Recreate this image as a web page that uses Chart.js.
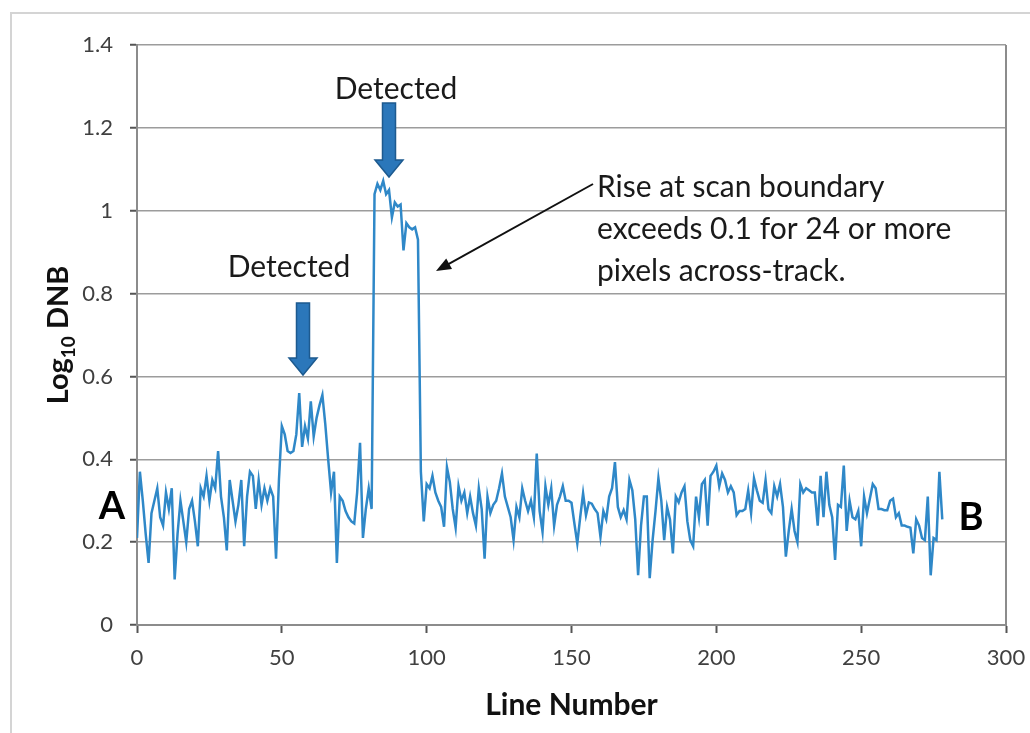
<!DOCTYPE html>
<html>
<head>
<meta charset="utf-8">
<script src="https://cdn.jsdelivr.net/npm/chart.js@4/dist/chart.umd.min.js"></script>
<style>
  html, body { margin: 0; padding: 0; background: #fff; }
  #wrap { width: 1030px; height: 733px; }
</style>
</head>
<body>
<div id="wrap"><canvas id="chart" width="1030" height="733"></canvas></div>
<script>
// Log10 DNB along the line, one value per line number (starting at line 0)
const dnb = [
  0.21, 0.37, 0.30, 0.22, 0.15, 0.27, 0.30, 0.33, 0.26, 0.24,
  0.32, 0.28, 0.33, 0.11, 0.22, 0.30, 0.25, 0.20, 0.28, 0.30,
  0.25, 0.19, 0.33, 0.31, 0.36, 0.30, 0.35, 0.33, 0.42, 0.31,
  0.26, 0.18, 0.35, 0.30, 0.25, 0.29, 0.35, 0.19, 0.31, 0.37,
  0.36, 0.28, 0.35, 0.29, 0.33, 0.30, 0.33, 0.31, 0.16, 0.35,
  0.48, 0.46, 0.42, 0.415, 0.42, 0.46, 0.56, 0.43, 0.48, 0.45,
  0.54, 0.455, 0.50, 0.53, 0.555, 0.485, 0.40, 0.32, 0.37, 0.15,
  0.31, 0.30, 0.275, 0.26, 0.25, 0.245, 0.32, 0.44, 0.21, 0.28,
  0.33, 0.28, 1.04, 1.065, 1.05, 1.072, 1.04, 1.05, 0.984, 1.02,
  1.01, 1.015, 0.904, 0.97, 0.96, 0.955, 0.96, 0.93, 0.37, 0.25,
  0.34, 0.33, 0.36, 0.32, 0.30, 0.285, 0.237, 0.381, 0.345, 0.28,
  0.235, 0.335, 0.30, 0.32, 0.27, 0.31, 0.27, 0.24, 0.33, 0.28,
  0.16, 0.31, 0.27, 0.29, 0.30, 0.33, 0.366, 0.31, 0.285, 0.26,
  0.205, 0.285, 0.26, 0.33, 0.30, 0.275, 0.30, 0.26, 0.414, 0.275,
  0.225, 0.335, 0.29, 0.33, 0.24, 0.29, 0.31, 0.335, 0.30, 0.30,
  0.295, 0.245, 0.197, 0.26, 0.318, 0.265, 0.296, 0.293, 0.28, 0.27,
  0.213, 0.275, 0.255, 0.31, 0.33, 0.393, 0.285, 0.26, 0.277, 0.255,
  0.35, 0.325, 0.255, 0.12, 0.24, 0.31, 0.31, 0.113, 0.205, 0.275,
  0.354, 0.30, 0.205, 0.285, 0.255, 0.173, 0.31, 0.296, 0.32, 0.335,
  0.25, 0.205, 0.19, 0.31, 0.26, 0.34, 0.35, 0.24, 0.36, 0.37,
  0.385, 0.335, 0.366, 0.35, 0.32, 0.335, 0.32, 0.265, 0.275, 0.275,
  0.28, 0.325, 0.27, 0.354, 0.325, 0.30, 0.295, 0.35, 0.28, 0.27,
  0.335, 0.31, 0.34, 0.285, 0.165, 0.227, 0.28, 0.227, 0.20, 0.34,
  0.32, 0.33, 0.325, 0.32, 0.32, 0.24, 0.36, 0.26, 0.37, 0.29,
  0.26, 0.157, 0.29, 0.285, 0.385, 0.227, 0.30, 0.26, 0.255, 0.275,
  0.19, 0.31, 0.27, 0.305, 0.34, 0.33, 0.28, 0.28, 0.277, 0.277,
  0.30, 0.305, 0.26, 0.27, 0.24, 0.24, 0.237, 0.235, 0.173, 0.255,
  0.24, 0.21, 0.205, 0.31, 0.12, 0.21, 0.205, 0.37, 0.255
];
const lineNumbers = dnb.map((v, i) => i);

const xTicks = [0, 50, 100, 150, 200, 250, 300];
const yTicks = ['0', '0.2', '0.4', '0.6', '0.8', '1', '1.2', '1.4'];

const FONT = 'Lato';

// down-pointing block arrow (the "Detected" markers)
function blockArrow(ctx, cx, yTop, yTip, shaftW, headW, headH) {
    ctx.beginPath();
    ctx.moveTo(cx - shaftW / 2, yTop);
    ctx.lineTo(cx + shaftW / 2, yTop);
    ctx.lineTo(cx + shaftW / 2, yTip - headH);
    ctx.lineTo(cx + headW / 2, yTip - headH);
    ctx.lineTo(cx, yTip);
    ctx.lineTo(cx - headW / 2, yTip - headH);
    ctx.lineTo(cx - shaftW / 2, yTip - headH);
    ctx.closePath();
    ctx.fillStyle = '#2b77ba';
    ctx.fill();
    ctx.strokeStyle = '#1d5a8f';
    ctx.lineWidth = 1.5;
    ctx.stroke();
}

const extras = {
    id: 'extras',
    afterDraw(chart) {
        const ctx = chart.ctx;
        const a = chart.chartArea;
        ctx.save();

        // outer frame (left and top edges visible)
        ctx.strokeStyle = '#d4d4d4';
        ctx.lineWidth = 2;
        ctx.beginPath();
        ctx.moveTo(11, 733);
        ctx.lineTo(11, 13);
        ctx.lineTo(1030, 13);
        ctx.stroke();

        // right edge of plot area
        ctx.strokeStyle = '#8c8c8c';
        ctx.lineWidth = 2;
        ctx.beginPath();
        ctx.moveTo(a.right, a.top);
        ctx.lineTo(a.right, a.bottom);
        ctx.stroke();

        // y title with subscript
        ctx.save();
        ctx.translate(68, (a.top + a.bottom) / 2);
        ctx.rotate(-Math.PI / 2);
        ctx.fillStyle = '#111';
        ctx.textBaseline = 'alphabetic';
        const big = 'bold 29px ' + FONT, small = 'bold 19px ' + FONT;
        ctx.font = big; const w1 = ctx.measureText('Log').width; const w3 = ctx.measureText(' DNB').width;
        ctx.font = small; const w2 = ctx.measureText('10').width;
        let x0 = -(w1 + w2 + w3) / 2;
        ctx.font = big; ctx.fillText('Log', x0, 0);
        ctx.font = small; ctx.fillText('10', x0 + w1, 7);
        ctx.font = big; ctx.fillText(' DNB', x0 + w1 + w2, 0);
        ctx.restore();

        // A and B end labels
        ctx.fillStyle = '#000';
        ctx.font = 'bold 38px ' + FONT;
        ctx.textAlign = 'center';
        ctx.textBaseline = 'middle';
        ctx.fillText('A', 112, 507);
        ctx.fillText('B', 971, 518);

        // Detected labels + block arrows
        ctx.fillStyle = '#1a1a1a';
        ctx.font = '30px ' + FONT;
        ctx.textBaseline = 'alphabetic';
        ctx.fillText('Detected', 396, 99);
        ctx.fillText('Detected', 289, 277);
        blockArrow(ctx, 389, 103, 177, 13, 28, 17);
        blockArrow(ctx, 303, 303, 375, 13, 28, 17);

        // note text
        ctx.fillStyle = '#1a1a1a';
        ctx.textAlign = 'left';
        ctx.textBaseline = 'middle';
        ctx.font = '30px ' + FONT;
        ctx.fillText('Rise at scan boundary', 597, 187);
        ctx.fillText('exceeds 0.1 for 24 or more', 597, 229);
        ctx.fillText('pixels across-track.', 597, 271);

        // black pointer arrow
        const sx = 593, sy = 184, ex = 436, ey = 271;
        const ang = Math.atan2(ey - sy, ex - sx);
        ctx.strokeStyle = '#111';
        ctx.lineWidth = 2;
        ctx.beginPath();
        ctx.moveTo(sx, sy);
        ctx.lineTo(ex - 8 * Math.cos(ang), ey - 8 * Math.sin(ang));
        ctx.stroke();
        ctx.beginPath();
        ctx.moveTo(ex, ey);
        ctx.lineTo(ex - 15 * Math.cos(ang) + 6 * Math.sin(ang), ey - 15 * Math.sin(ang) - 6 * Math.cos(ang));
        ctx.lineTo(ex - 15 * Math.cos(ang) - 6 * Math.sin(ang), ey - 15 * Math.sin(ang) + 6 * Math.cos(ang));
        ctx.closePath();
        ctx.fillStyle = '#111';
        ctx.fill();

        ctx.restore();
    }
};

const ctx = document.getElementById('chart').getContext('2d');
new Chart(ctx, {
    type: 'line',
    data: {
        datasets: [{
            data: lineNumbers.map((x, i) => ({ x: x, y: dnb[i] })),
            borderColor: '#2f88c8',
            borderWidth: 2.5,
            pointRadius: 0,
            tension: 0,
            fill: false
        }]
    },
    options: {
        responsive: false,
        animation: false,
        devicePixelRatio: 1,
        layout: { padding: { top: 45, right: 24, left: 0, bottom: 0 } },
        plugins: {
            legend: { display: false },
            tooltip: { enabled: false }
        },
        scales: {
            x: {
                type: 'linear',
                min: 0,
                max: 300,
                afterBuildTicks: s => { s.ticks = xTicks.map(v => ({ value: v })); },
                afterFit: s => { s.height = 108; s.paddingRight = 0; s.paddingLeft = 0; },
                grid: { drawOnChartArea: false, drawTicks: true, tickLength: 8, tickColor: '#555', tickWidth: 2 },
                border: { display: true, color: '#8c8c8c', width: 2 },
                ticks: { font: { family: FONT, size: 22 }, color: '#404040', padding: 12, maxRotation: 0 },
                title: {
                    display: true,
                    text: 'Line Number',
                    font: { family: FONT, size: 30, weight: 'bold' },
                    color: '#111',
                    padding: { top: 4, bottom: 10 }
                }
            },
            y: {
                type: 'linear',
                min: 0,
                max: 1.4,
                afterBuildTicks: s => { s.ticks = yTicks.map(v => ({ value: Number(v) })); },
                afterFit: s => { s.width = 137; },
                grid: { color: '#9c9c9c', lineWidth: 1.5, drawTicks: true, tickLength: 7, tickColor: '#555', tickWidth: 2 },
                border: { display: true, color: '#8c8c8c', width: 2 },
                ticks: {
                    font: { family: FONT, size: 22 },
                    color: '#404040',
                    padding: 17,
                    callback: (v, i) => yTicks[i]
                }
            }
        }
    },
    plugins: [extras]
});
</script>
</body>
</html>
